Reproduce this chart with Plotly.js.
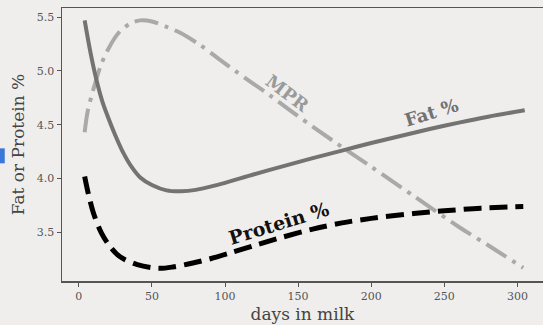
<!DOCTYPE html>
<html>
<head>
<meta charset="utf-8">
<script src="https://cdn.plot.ly/plotly-3.0.1.min.js"></script>
<style>
html,body{margin:0;padding:0;background:#efeeec;}
#chart{width:543px;height:325px;}
</style>
</head>
<body>
<div id="chart"></div>
<script>
// Days in milk and series values
var fatDays = [4, 8, 12, 16, 20, 25, 30, 36, 42, 50, 60, 70, 80, 90, 100, 120, 140, 160, 180, 200, 220, 240, 260, 280, 305];
var fatPct  = [5.47, 5.17, 4.92, 4.72, 4.57, 4.40, 4.25, 4.11, 4.01, 3.94, 3.89, 3.882, 3.895, 3.925, 3.96, 4.04, 4.115, 4.19, 4.26, 4.33, 4.395, 4.46, 4.52, 4.575, 4.635];

var protDays = [4, 6.5, 10, 15.6, 21.3, 28, 40, 55, 65, 78, 90, 105, 120, 140, 160, 180, 200, 229, 250, 275, 304];
var protPct  = [4.02, 3.86, 3.68, 3.49, 3.37, 3.275, 3.2, 3.166, 3.18, 3.215, 3.255, 3.315, 3.378, 3.458, 3.53, 3.588, 3.63, 3.675, 3.70, 3.725, 3.74];

var mprDays = [4, 6, 10, 15, 20, 27, 35, 42, 50, 60, 70, 83, 95, 107, 130, 150, 175, 200, 230, 260, 280, 304];
var mprVal  = [4.43, 4.62, 4.83, 5.05, 5.2, 5.35, 5.44, 5.47, 5.46, 5.41, 5.35, 5.24, 5.12, 5.0, 4.78, 4.58, 4.34, 4.11, 3.83, 3.55, 3.38, 3.17];

var xTicks = [0, 50, 100, 150, 200, 250, 300];
var yTicks = [3.5, 4.0, 4.5, 5.0, 5.5];
var yTickText = ['3.5', '4.0', '4.5', '5.0', '5.5'];

var labelNames = ['MPR', 'Fat %', 'Protein %'];
var labelDays  = [143, 241, 137];
var labelVals  = [4.79, 4.61, 3.585];

var serif = 'DejaVu Serif, serif';

var traces = [
  {x: mprDays, y: mprVal, mode: 'lines', line: {color: '#a9a9a9', width: 4, dash: '24px,7px,4px,7px', shape: 'spline', smoothing: 0.9}, hoverinfo: 'skip'},
  {x: fatDays, y: fatPct, mode: 'lines', line: {color: '#737373', width: 4, shape: 'spline', smoothing: 0.9}, hoverinfo: 'skip'},
  {x: protDays, y: protPct, mode: 'lines', line: {color: '#000000', width: 5, dash: '18px,8px', shape: 'spline', smoothing: 0.9}, hoverinfo: 'skip'}
];

var labelColors = ['#9a9a9a', '#727272', '#111111'];
var labelAngles = [37, -17, -17];
var labelSizes = [18, 18, 19];
var annotations = labelNames.map(function(t, i){
  return {x: labelDays[i], y: labelVals[i], xref: 'x', yref: 'y', text: '<b>' + t + '</b>', showarrow: false,
          textangle: labelAngles[i], font: {family: serif, size: labelSizes[i], color: labelColors[i]}};
});

var layout = {
  width: 543, height: 325,
  margin: {l: 62, r: 0, t: 8, b: 44},
  paper_bgcolor: '#efeeec',
  plot_bgcolor: '#efeeec',
  showlegend: false,
  xaxis: {
    range: [-11.5, 317.5], tickvals: xTicks, ticks: 'outside', ticklen: 4, tickcolor: '#555',
    showgrid: false, zeroline: false, showline: true, linecolor: '#555', linewidth: 1.5, mirror: true,
    tickfont: {family: serif, size: 11, color: '#555'},
    title: {text: 'days in milk', font: {family: serif, size: 17, color: '#444'}, standoff: 6}
  },
  yaxis: {
    range: [3.048, 5.585], tickvals: yTicks, ticktext: yTickText, ticks: 'outside', ticklen: 4, tickcolor: '#555',
    showgrid: false, zeroline: false, showline: true, linecolor: '#555', linewidth: 1.5,
    tickfont: {family: serif, size: 11, color: '#555'},
    title: {text: 'Fat or Protein %', font: {family: serif, size: 17, color: '#444'}, standoff: 8}
  },
  annotations: annotations,
  shapes: [
    {type: 'rect', xref: 'paper', yref: 'paper', x0: -0.129, x1: -0.119, y0: 0.431, y1: 0.486,
     fillcolor: '#3c78d8', line: {width: 0}, layer: 'above'}
  ]
};

Plotly.newPlot('chart', traces, layout, {staticPlot: true, displayModeBar: false});
</script>
</body>
</html>
